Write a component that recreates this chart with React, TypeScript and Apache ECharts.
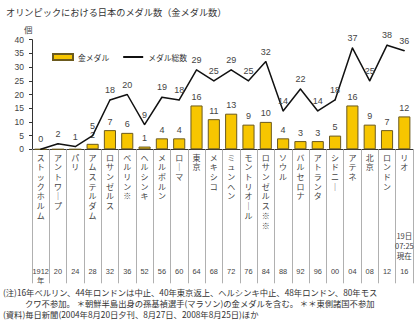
import React, { useEffect, useRef } from "react";
import * as echarts from "echarts";

const cities = [
  "ストックホルム", "アントワープ", "パリ", "アムステルダム", "ロサンゼルス", "ベルリン※",
  "ヘルシンキ", "メルボルン", "ローマ", "東京", "メキシコ", "ミュンヘン", "モントリオール",
  "ロサンゼルス※※", "ソウル", "バルセロナ", "アトランタ", "シドニー", "アテネ", "北京",
  "ロンドン", "リオ",
];
const years = [
  "1912\n年", "20", "24", "28", "32", "36", "52", "56", "60", "64", "68", "72", "76", "84",
  "88", "92", "96", "00", "04", "08", "12", "16",
];
const goldMedals = [0, 0, 0, 2, 7, 6, 1, 4, 4, 16, 11, 13, 9, 10, 4, 3, 3, 5, 16, 9, 7, 12];
const totalMedals = [0, 2, 1, 5, 18, 20, 9, 19, 18, 29, 25, 29, 25, 32, 14, 22, 14, 18, 37, 25, 38, 36];
const yTicks = { min: 0, max: 40, interval: 5 };
const lastNote = "19日\n07:25\n現在";

const title = "オリンピックにおける日本のメダル数（金メダル数）";
const notes = [
  "(注)16年ベルリン、44年ロンドンは中止、40年東京返上、ヘルシンキ中止、48年ロンドン、80年モス",
  "クワ不参加。 ＊朝鮮半島出身の孫基禎選手(マラソン)の金メダルを含む。 ＊＊東側諸国不参加",
  "(資料)毎日新聞(2004年8月20日夕刊、8月27日、2008年8月25日)ほか",
];

const JP = "'Noto Sans CJK JP', 'Noto Sans', sans-serif";
const NUM = "'Liberation Sans', Arial, 'Noto Sans CJK JP', sans-serif";

function vertical(s: string) {
  return s.replace(/ー/g, "｜").split("").join("\n");
}

export default function App() {
  const ref = useRef<HTMLDivElement>(null);
  useEffect(() => {
    if (!ref.current) return;
    const chart = echarts.init(ref.current, undefined, { renderer: "svg" });
    chart.setOption({
      animation: false,
      backgroundColor: "#ffffff",
      grid: { left: 32, right: 7, top: 39.7, bottom: 181.7, containLabel: false },
      legend: {
        left: 47,
        top: 48,
        itemWidth: 20,
        itemHeight: 6,
        itemGap: 13,
        textStyle: { fontSize: 7.8, color: "#333", fontFamily: JP },
        data: [
          { name: "金メダル", icon: "rect" },
          { name: "メダル総数", itemStyle: { opacity: 0 } },
        ],
      },
      xAxis: [
        {
          type: "category",
          data: cities,
          axisLine: { show: true, lineStyle: { color: "#333", width: 1 } },
          axisTick: { show: true, length: 134, lineStyle: { color: "#b0b0b0" } },
          axisLabel: {
            interval: 0,
            formatter: (v: string) => vertical(v),
            fontSize: 8,
            lineHeight: 9.7,
            margin: 3,
            color: "#444",
            fontFamily: JP,
            verticalAlign: "top",
          },
        },
        {
          type: "category",
          data: years,
          position: "bottom",
          offset: 117,
          axisLine: { show: false },
          axisTick: { show: false },
          axisLabel: {
            interval: 0,
            fontSize: 7.4,
            lineHeight: 9.7,
            margin: 0,
            color: "#444",
            fontFamily: NUM,
            verticalAlign: "top",
          },
        },
        {
          type: "category",
          data: years.map((_, i) => (i === years.length - 1 ? lastNote : "")),
          position: "bottom",
          offset: 81.5,
          axisLine: { show: false },
          axisTick: { show: false },
          axisLabel: {
            interval: 0,
            fontSize: 7.5,
            lineHeight: 9.7,
            margin: 0,
            color: "#444",
            fontFamily: JP,
            verticalAlign: "top",
          },
        },
      ],
      yAxis: {
        type: "value",
        min: yTicks.min,
        max: yTicks.max,
        interval: yTicks.interval,
        splitLine: { show: false },
        axisLine: { show: true, lineStyle: { color: "#333" } },
        axisTick: { show: true, length: 3, lineStyle: { color: "#333" } },
        axisLabel: { fontSize: 8.5, color: "#444", margin: 8, fontFamily: NUM },
      },
      series: [
        {
          name: "金メダル",
          type: "bar",
          data: goldMedals,
          barWidth: "70%",
          itemStyle: { color: "#F7C600", borderColor: "#6b5a1e", borderWidth: 1 },
          label: {
            show: true,
            position: "top",
            distance: 4,
            fontSize: 9,
            color: "#444",
            fontFamily: NUM,
            formatter: (p: any) => (p.value === 0 ? "" : String(p.value)),
          },
        },
        {
          name: "メダル総数",
          type: "line",
          data: totalMedals,
          symbol: "circle",
          symbolSize: 1,
          itemStyle: { color: "#111" },
          lineStyle: { color: "#111", width: 1.5 },
          label: {
            show: true,
            position: "top",
            distance: 5,
            fontSize: 9,
            color: "#444",
            fontFamily: NUM,
          },
          z: 3,
        },
      ],
      graphic: [
        {
          type: "text",
          left: 6,
          top: 7,
          style: { text: title, fontSize: 9.2, fill: "#333", fontFamily: JP },
        },
        {
          type: "text",
          left: 24,
          top: 25,
          style: { text: "個", fontSize: 8.5, fill: "#444", fontFamily: JP },
        },
        {
          type: "text",
          left: 3,
          top: 288,
          style: { text: notes[0], fontSize: 8.3, fill: "#333", fontFamily: JP },
        },
        {
          type: "text",
          left: 25,
          top: 299,
          style: { text: notes[1], fontSize: 8.3, fill: "#333", fontFamily: JP },
        },
        {
          type: "text",
          left: 3,
          top: 310,
          style: { text: notes[2], fontSize: 8.3, fill: "#333", fontFamily: JP },
        },
      ],
    });
    return () => chart.dispose();
  }, []);
  return (
    <div
      ref={ref}
      style={{ position: "fixed", left: 0, top: 0, width: 420, height: 331 }}
    />
  );
}
